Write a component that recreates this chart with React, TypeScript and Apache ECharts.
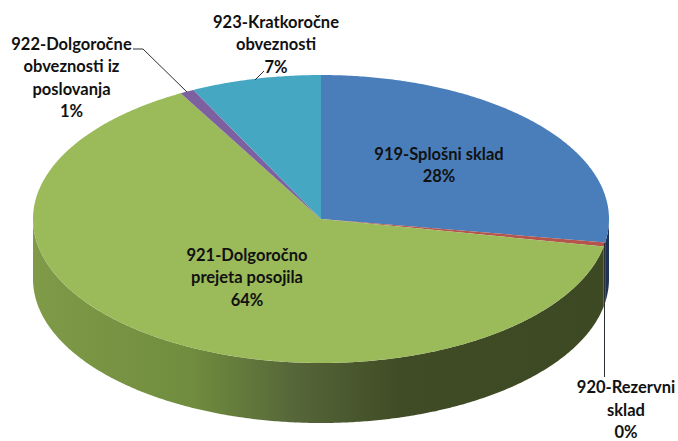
import React, { useEffect, useRef } from "react";
import * as echarts from "echarts";

const categories = [
  "919-Splošni sklad",
  "920-Rezervni sklad",
  "921-Dolgoročno prejeta posojila",
  "922-Dolgoročne obveznosti iz poslovanja",
  "923-Kratkoročne obveznosti",
];
const values = [27.6, 0.45, 63.85, 0.8, 7.3];
const percentLabels = ["28%", "0%", "64%", "1%", "7%"];
const labelLines = [
  ["919-Splošni sklad"],
  ["920-Rezervni", "sklad"],
  ["921-Dolgoročno", "prejeta posojila"],
  ["922-Dolgoročne", "obveznosti iz", "poslovanja"],
  ["923-Kratkoročne", "obveznosti"],
];
const topColors = ["#4a7ebb", "#b5544d", "#9bba59", "#7d60a0", "#46a7c3"];
const sideColors = ["#1f3358", "#5a1f1d", "#6b8a3c", "#3a2c4c", "#1e4f5e"];

const CX = 321;
const CY = 219;
const RX = 288;
const RY = 144;
const DEPTH = 60;
const LINE_H = 22.3;
const labelCenters = [
  [439, 154],
  [626, 387.3],
  [247, 255],
  [71.5, 44],
  [276, 22],
];

const total = values.reduce((a, b) => a + b, 0);
const spans: [number, number][] = [];
{
  let acc = 0;
  for (const v of values) {
    const s = (acc / total) * 360;
    acc += v;
    spans.push([s, (acc / total) * 360]);
  }
}

const pt = (deg: number, dy = 0): number[] => {
  const t = (deg * Math.PI) / 180;
  return [CX + RX * Math.sin(t), CY - RY * Math.cos(t) + dy];
};

const arc = (a: number, b: number, dy = 0): number[][] => {
  const pts: number[][] = [];
  const n = Math.max(2, Math.ceil(Math.abs(b - a) * 2));
  for (let i = 0; i <= n; i++) pts.push(pt(a + ((b - a) * i) / n, dy));
  return pts;
};

const sideItem = (params: any) => {
  const [s, e] = spans[params.dataIndex];
  const a = Math.max(s, 90);
  const b = Math.min(e, 270);
  if (b <= a) return { type: "group", children: [] };
  const isMain = params.dataIndex === 2;
  const fill = isMain
    ? new echarts.graphic.LinearGradient(0, 0, 1, 0, [
        { offset: 0, color: "#7f9b48" },
        { offset: 0.28, color: "#708c3e" },
        { offset: 0.46, color: "#556639" },
        { offset: 0.64, color: "#404c25" },
        { offset: 1, color: "#3d4923" },
      ])
    : sideColors[params.dataIndex];
  return {
    type: "polygon",
    shape: { points: [...arc(a, b), ...arc(b, a, DEPTH)] },
    style: { fill },
  };
};

const topItem = (params: any) => {
  const [s, e] = spans[params.dataIndex];
  return {
    type: "polygon",
    shape: { points: [[CX, CY], ...arc(s, e)] },
    style: { fill: topColors[params.dataIndex] },
  };
};

const leaderStyle = { stroke: "#2b2f33", lineWidth: 1, fill: "none" };
const textStyle = {
  fill: "#111111",
  font: "bold 16.5px Lato, sans-serif",
  align: "center",
  verticalAlign: "middle",
};

export default function App() {
  const ref = useRef<HTMLDivElement>(null);
  useEffect(() => {
    document.body.style.margin = "0";
    const chart = echarts.init(ref.current!, undefined, { renderer: "svg" });
    const texts: any[] = [];
    labelLines.forEach((lines, i) => {
      [...lines, percentLabels[i]].forEach((line, j) => {
        texts.push({
          type: "text",
          x: labelCenters[i][0],
          y: labelCenters[i][1] + j * LINE_H,
          z: 10,
          style: { ...textStyle, text: line },
        });
      });
    });
    chart.setOption({
      animation: false,
      backgroundColor: "#ffffff",
      series: [
        {
          type: "custom",
          coordinateSystem: "none",
          name: "side",
          data: values,
          renderItem: sideItem,
          silent: true,
          z: 1,
        },
        {
          type: "custom",
          coordinateSystem: "none",
          name: "top",
          data: categories.map((name, i) => ({ name, value: values[i] })),
          renderItem: topItem,
          silent: true,
          z: 2,
        },
      ],
      graphic: [
        ...texts,
        {
          type: "polyline",
          z: 9,
          shape: { points: [[133, 49], [143, 49], [187, 92]] },
          style: leaderStyle,
        },
        {
          type: "line",
          z: 9,
          shape: { x1: 255, y1: 80, x2: 264, y2: 71 },
          style: leaderStyle,
        },
        {
          type: "line",
          z: 9,
          shape: { x1: 604.5, y1: 243, x2: 604.5, y2: 377 },
          style: leaderStyle,
        },
      ],
    });
    return () => chart.dispose();
  }, []);
  return <div ref={ref} style={{ width: 678, height: 441 }} />;
}
